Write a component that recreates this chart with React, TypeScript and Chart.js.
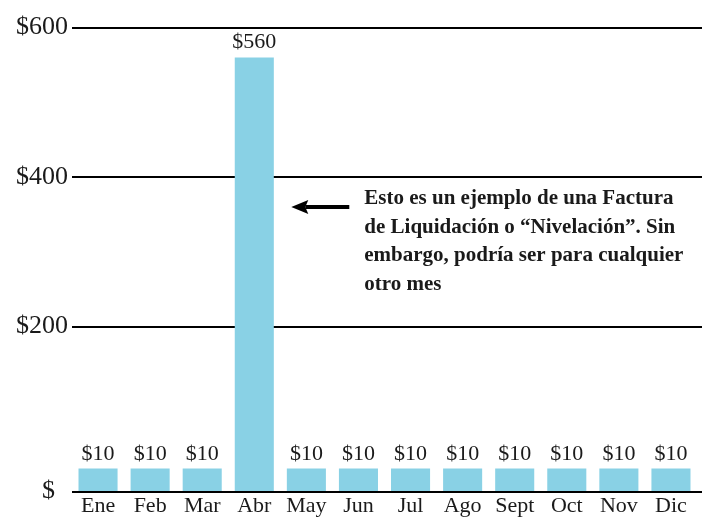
import React, { useEffect, useRef } from "react";
import { Chart, registerables } from "chart.js";

Chart.register(...registerables);

const months = ["Ene", "Feb", "Mar", "Abr", "May", "Jun", "Jul", "Ago", "Sept", "Oct", "Nov", "Dic"];
const bills = [10, 10, 10, 560, 10, 10, 10, 10, 10, 10, 10, 10];
const yTickValues = [-20, 200, 400, 600];
const yTickLabels = ["$  ", "$200", "$400", "$600"];
const noteLines = [
  "Esto es un ejemplo de una Factura",
  "de Liquidación o “Nivelación”. Sin",
  "embargo, podría ser para cualquier",
  "otro mes",
];

const SERIF = "'Liberation Serif', 'DejaVu Serif', serif";
const BAR_COLOR = "#89D1E5";

const gridPlugin = {
  id: "extGrid",
  beforeDatasetsDraw(chart: any) {
    const ctx = chart.ctx;
    const ys = chart.scales.y;
    const { left, right, bottom } = chart.chartArea;
    ctx.save();
    ctx.strokeStyle = "#000";
    ctx.lineWidth = 2;
    yTickValues.forEach((v) => {
      if (v <= -20) return;
      const y = Math.round(ys.getPixelForValue(v));
      ctx.beginPath();
      ctx.moveTo(left, y);
      ctx.lineTo(right + 5, y);
      ctx.stroke();
    });
    ctx.beginPath();
    ctx.moveTo(left, bottom + 1);
    ctx.lineTo(right + 5, bottom + 1);
    ctx.stroke();
    ctx.restore();
  },
};

const labelPlugin = {
  id: "valueLabels",
  afterDatasetsDraw(chart: any) {
    const ctx = chart.ctx;
    const meta = chart.getDatasetMeta(0);
    ctx.save();
    ctx.fillStyle = "#1a1a1a";
    ctx.font = `22px ${SERIF}`;
    ctx.textAlign = "center";
    ctx.textBaseline = "alphabetic";
    meta.data.forEach((bar: any, i: number) => {
      ctx.fillText("$" + bills[i], bar.x, bar.y - 9);
    });
    ctx.restore();
  },
};

const notePlugin = {
  id: "note",
  afterDraw(chart: any) {
    const ctx = chart.ctx;
    const xs = chart.scales.x;
    const ys = chart.scales.y;
    const barX = xs.getPixelForValue(3);
    const ax0 = barX + 37;
    const ax1 = ax0 + 58;
    const ay = ys.getPixelForValue(360);
    ctx.save();
    ctx.strokeStyle = "#000";
    ctx.fillStyle = "#000";
    ctx.lineWidth = 4;
    ctx.beginPath();
    ctx.moveTo(ax0 + 14, ay);
    ctx.lineTo(ax1, ay);
    ctx.stroke();
    ctx.beginPath();
    ctx.moveTo(ax0, ay);
    ctx.lineTo(ax0 + 17, ay - 7);
    ctx.lineTo(ax0 + 14, ay);
    ctx.lineTo(ax0 + 17, ay + 7);
    ctx.closePath();
    ctx.fill();

    ctx.fillStyle = "#1a1a1a";
    ctx.font = `bold 21px ${SERIF}`;
    ctx.textAlign = "left";
    ctx.textBaseline = "middle";
    const tx = ax1 + 15;
    noteLines.forEach((line, i) => {
      ctx.fillText(line, tx, ay - 8 + i * 28.5);
    });
    ctx.restore();
  },
};

export default function App() {
  const ref = useRef<HTMLCanvasElement>(null);
  useEffect(() => {
    if (!ref.current) return;
    const chart = new Chart(ref.current, {
      type: "bar",
      data: {
        labels: months,
        datasets: [
          {
            data: bills,
            backgroundColor: BAR_COLOR,
            base: -20,
            barPercentage: 0.75,
            categoryPercentage: 1,
          } as any,
        ],
      },
      options: {
        animation: false,
        responsive: true,
        maintainAspectRatio: false,
        layout: { padding: { top: 15, right: 7, left: 0, bottom: 0 } },
        plugins: { legend: { display: false }, tooltip: { enabled: false } },
        scales: {
          x: {
            grid: { display: false, drawTicks: false },
            border: { display: false },
            ticks: {
              color: "#1a1a1a",
              font: { family: SERIF, size: 22 },
              padding: 2,
              maxRotation: 0,
              autoSkip: false,
            },
            afterFit(scale: any) {
              scale.height = 26;
            },
          },
          y: {
            min: -20,
            max: 600,
            afterBuildTicks(scale: any) {
              scale.ticks = yTickValues.map((v) => ({ value: v }));
            },
            afterFit(scale: any) {
              scale.width = 64;
            },
            border: { display: false },
            grid: { display: false, drawTicks: false },
            ticks: {
              color: "#1a1a1a",
              font: { family: SERIF, size: 26 },
              padding: 4,
              callback: (v: any) => {
                const idx = yTickValues.indexOf(Number(v));
                return idx >= 0 ? yTickLabels[idx] : "";
              },
            },
          },
        },
      },
      plugins: [gridPlugin, labelPlugin, notePlugin],
    });
    return () => chart.destroy();
  }, []);
  return (
    <div style={{ width: 696, height: 509, position: "relative" }}>
      <canvas ref={ref} />
    </div>
  );
}
